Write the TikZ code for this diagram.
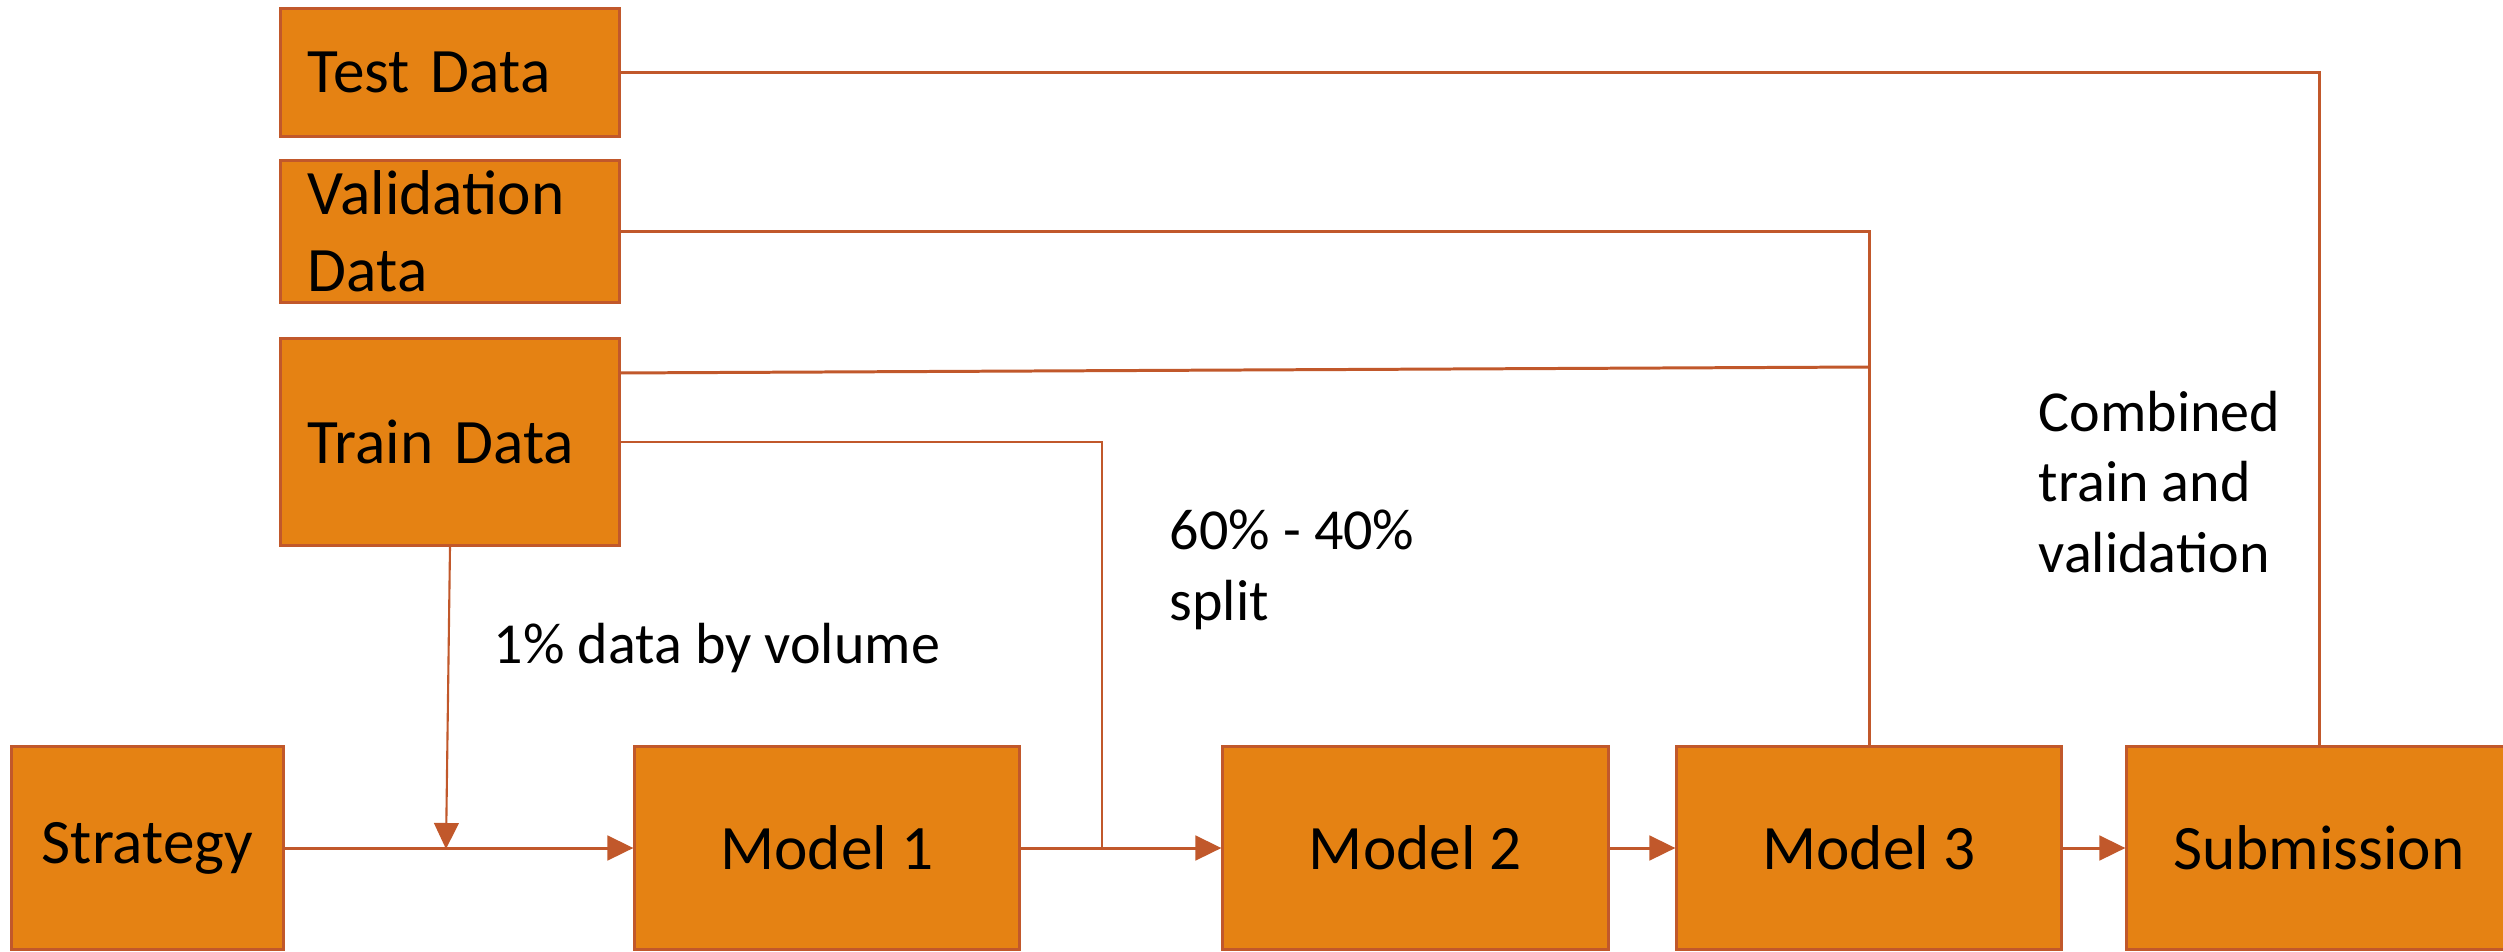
\documentclass[tikz,border=0pt]{standalone}
\usepackage{fontspec}
\setmainfont{Carlito}
\usetikzlibrary{arrows.meta}
\definecolor{boxfill}{RGB}{229,130,19}
\definecolor{boxline}{RGB}{193,88,43}
\begin{document}
\begin{tikzpicture}[x=0.01cm,y=-0.01cm,
  databox/.style={draw=boxline,fill=boxfill,line width=0.85pt,inner xsep=0.27cm,inner ysep=0pt,
    align=left,text width=2.84cm,minimum width=3.38cm,font=\fontsize{18pt}{22pt}\selectfont},
  modelbox/.style={draw=boxline,fill=boxfill,line width=0.85pt,inner sep=0pt,
    minimum height=2.02cm,font=\fontsize{18pt}{22pt}\selectfont},
  conn/.style={draw=boxline,line width=0.85pt},
  thinconn/.style={draw=boxline,line width=0.6pt},
  arr/.style={-{Triangle[length=7.4pt,width=7pt]}},
  lbl/.style={inner sep=0pt,anchor=base west,align=left,font=\fontsize{16.5pt}{20pt}\selectfont}]
\clip (0,0) rectangle (2503,951);
\fill[white] (0,0) rectangle (2503,951);

% data boxes
\node[databox,minimum height=1.27cm] (test) at (450,72.5) {Test Data};
\node[databox,minimum height=1.41cm] (val) at (450,231.5) {Validation\\Data};
\node[databox,minimum height=2.06cm] (train) at (450,442) {Train Data};

% model row
\node[modelbox,minimum width=2.71cm] (strat) at (147.5,848) {Strategy};
\node[modelbox,minimum width=3.84cm] (m1) at (827,848) {Model 1};
\node[modelbox,minimum width=3.85cm] (m2) at (1415.5,848) {Model 2};
\node[modelbox,minimum width=3.84cm] (m3) at (1869,848) {Model 3};
\node[modelbox,minimum width=3.84cm] (sub) at (2319,848) {Submission};

% junction coordinates
\coordinate (j1) at (446,849);
\coordinate (j2) at (1102,849);
\coordinate (j3) at (1869,367);

% connectors
\draw[conn,arr] (strat.east) -- (m1.west);
\draw[thinconn,arr] (train.south) -- (j1);
\draw[conn,arr] (m1.east) -- (m2.west);
\draw[thinconn] (train.east) -| (j2);
\draw[conn,arr] (m2.east) -- (m3.west);
\draw[conn,arr] (m3.east) -- (sub.west);
\draw[conn] (val.east) -| (m3.north);
\draw[conn] ([yshift=0.69cm]train.east) -- (j3);
\draw[conn] (test.east) -| (sub.north);

% labels (base anchor = baseline of the last line)
\node[lbl] (l1) at (493,663) {1\% data by volume};
\node[lbl] (l2) at (1169,620) {60\% - 40\%\\split};
\node[lbl] (l3) at (2038,572) {Combined\\train and\\validation};
\end{tikzpicture}
\end{document}
